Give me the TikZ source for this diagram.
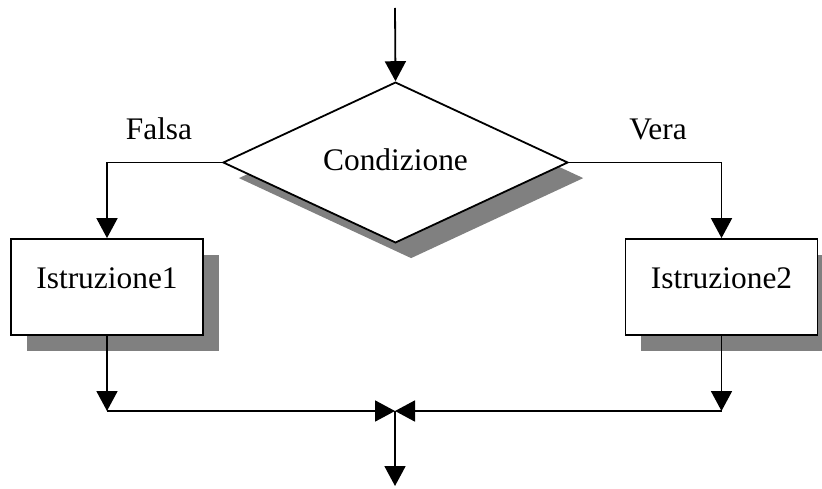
\documentclass[tikz,border=0pt]{standalone}
\usepackage{fontspec}
\setmainfont{Liberation Serif}
\usepackage{tikz}
\usetikzlibrary{arrows.meta,positioning,shapes.geometric,shadows}
\definecolor{ShadowGray}{HTML}{808080}

\begin{document}
\begin{tikzpicture}[
  x=0.5pt,y=0.5pt,
  every node/.style={font=\fontsize{15.7}{18}\selectfont},
  shade/.style={drop shadow={shadow xshift=7.8pt,shadow yshift=-7.8pt,fill=ShadowGray,opacity=1}},
  cond/.style={diamond,draw,line width=0.9pt,fill=white,shade,inner sep=0pt,minimum width=172.5pt,minimum height=76.5pt,text height=8pt,text depth=0pt},
  instr/.style={draw,line width=0.9pt,fill=white,shade,minimum width=96pt,minimum height=48pt,text height=8pt,text depth=7pt},
  arrow/.style={-{Triangle[length=10pt,width=10.5pt]},line width=0.9pt},
  line/.style={line width=0.9pt}
]
\useasboundingbox (0,0) rectangle (822,488);
\coordinate (start) at (395,480);
\node[cond] (test) at (395.5,325.5) {Condizione};
\node[instr] (istr1) at (107,201) {Istruzione1};
\node[instr] (istr2) at (721.5,201) {Istruzione2};
\node[anchor=base] (no) at (159,349) {Falsa};
\node[anchor=base] (yes) at (658,349) {Vera};
\coordinate (join) at (395,77);
\coordinate (left) at (istr1.south |- join);
\coordinate (right) at (istr2.south |- join);
\coordinate (stop) at (395,2);
\draw[arrow] (start)--(test.north);
\draw[arrow] (test.west)-|(istr1.north);
\draw[arrow] (test.east)-|(istr2.north);
\draw[arrow] (istr1.south)--(left);
\draw[arrow] (istr2.south)--(right);
\draw[arrow] (left)--(join);
\draw[arrow] (right)--(join);
\draw[arrow] (join)--(stop);
\end{tikzpicture}
\end{document}
